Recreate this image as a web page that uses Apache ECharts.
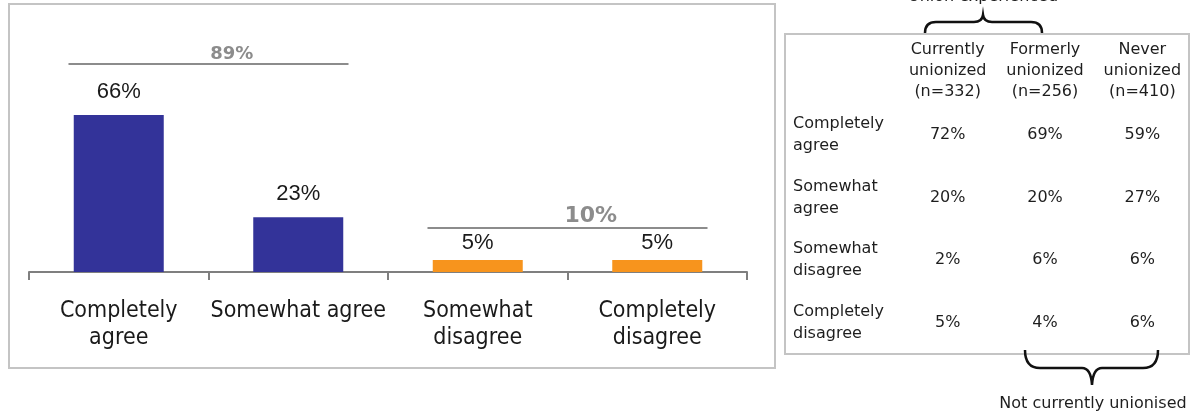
<!DOCTYPE html>
<html>
<head>
<meta charset="utf-8">
<title>Agreement by union status</title>
<style>
  html, body { margin: 0; padding: 0; background: #fff; }
  #chart { width: 1191px; height: 414px; }
</style>
<script src="https://cdn.jsdelivr.net/npm/echarts@6.0.0/dist/echarts.min.js"></script>
</head>
<body>
<div id="chart"></div>
<script>
// bar chart data
const CATEGORIES = ['Completely\nagree', 'Somewhat agree', 'Somewhat\ndisagree', 'Completely\ndisagree']
const VALUES = [66, 23, 5, 5]
const GROUP_TOTALS = [89, 10]
const GROUP_FIRST = [0, 2]
const GROUP_LAST = [1, 3]

// table data
const TABLE_COLUMNS = ['Currently\nunionized\n(n=332)', 'Formerly\nunionized\n(n=256)', 'Never\nunionized\n(n=410)']
const TABLE_ROWS = ['Completely\nagree', 'Somewhat\nagree', 'Somewhat\ndisagree', 'Completely\ndisagree']
const CURRENTLY = [72, 20, 2, 5]
const FORMERLY = [69, 20, 6, 4]
const NEVER = [59, 27, 6, 6]

const BLUE = '#333399'
const ORANGE = '#f7941d'
const GREY = '#8c8c8c'
const INK = '#1a1a1a'
const NARROW = "'Liberation Sans Narrow', 'DejaVu Sans Condensed', 'Liberation Sans', sans-serif"
const AGREE_COUNT = 2
const BRACKET_PAD = [21.4, 13.5]
const BRACKET_OVERHANG = 0.28
const TOTAL_SHIFT = 0.13
const TOTAL_FONT = [18, 22]

// curly braces around the table (pixel paths, decoration only)
const TOP_BRACE = 'M925,33 Q925,22 936,22 L974,22 Q982,22 983,15 Q984,22 992,22 L1031,22 Q1042,22 1042,33'
const BOTTOM_BRACE = 'M1025,350 Q1025,368 1040,368 L1082,368 Q1091,368 1092,385 Q1093,368 1102,368 L1143,368 Q1158,368 1158,350'

const chart = echarts.init(document.getElementById('chart'), null, { renderer: 'canvas' })

const bracketSeries = []
GROUP_TOTALS.forEach((total, g) => {
  const first = GROUP_FIRST[g]
  const last = GROUP_LAST[g]
  const level = Math.max(...VALUES.slice(first, last + 1)) + BRACKET_PAD[g]
  bracketSeries.push({
    type: 'line',
    xAxisIndex: 1,
    yAxisIndex: 0,
    silent: true,
    symbol: 'none',
    lineStyle: { color: GREY, width: 2 },
    data: [[first - BRACKET_OVERHANG, level], [last + BRACKET_OVERHANG, level]],
  })
  bracketSeries.push({
    type: 'scatter',
    xAxisIndex: 1,
    yAxisIndex: 0,
    silent: true,
    symbolSize: 1,
    itemStyle: { color: 'transparent', opacity: 1 },
    label: {
      show: true,
      position: 'top',
      distance: 0,
      formatter: total + '%',
      color: GREY,
      fontWeight: 'bold',
      fontFamily: 'DejaVu Sans',
      fontSize: TOTAL_FONT[g],
    },
    data: [[(first + last) / 2 + TOTAL_SHIFT, level]],
  })
})

const tableData = []
;[CURRENTLY, FORMERLY, NEVER].forEach((col, c) => {
  col.forEach((v, r) => tableData.push([c, r, v]))
})

const tableText = { fontFamily: 'DejaVu Sans', fontSize: 16, color: '#1e1e1e' }

chart.setOption({
  animation: false,
  backgroundColor: '#fff',
  grid: [
    { left: 29, width: 718, top: 34, height: 238 },
    { left: 899, width: 296, top: 104, height: 250 },
  ],
  xAxis: [
    {
      type: 'category',
      gridIndex: 0,
      data: CATEGORIES,
      axisLine: { lineStyle: { color: '#7f7f7f', width: 2 } },
      axisTick: { show: true, length: 8, lineStyle: { color: '#7f7f7f', width: 2 } },
      axisLabel: { interval: 0, margin: 26, color: INK, fontFamily: NARROW, fontSize: 23, lineHeight: 27 },
    },
    { type: 'value', gridIndex: 0, min: -0.5, max: 3.5, show: false },
    {
      type: 'category',
      gridIndex: 1,
      position: 'top',
      data: TABLE_COLUMNS,
      axisLine: { show: false },
      axisTick: { show: false },
      axisLabel: { interval: 0, margin: 2, lineHeight: 21, ...tableText },
    },
  ],
  yAxis: [
    { type: 'value', gridIndex: 0, min: 0, max: 100, show: false },
    {
      type: 'category',
      gridIndex: 1,
      inverse: true,
      data: TABLE_ROWS,
      axisLine: { show: false },
      axisTick: { show: false },
      axisLabel: { interval: 0, align: 'left', margin: 106, lineHeight: 22, ...tableText },
    },
  ],
  series: [
    {
      type: 'bar',
      xAxisIndex: 0,
      yAxisIndex: 0,
      barWidth: 90,
      label: {
        show: true,
        position: 'top',
        formatter: '{c}%',
        color: INK,
        fontFamily: 'Liberation Sans',
        fontSize: 22,
      },
      data: VALUES.map((v, i) => ({
        value: v,
        itemStyle: { color: i < AGREE_COUNT ? BLUE : ORANGE },
        label: { distance: i < AGREE_COUNT ? 12 : 6 },
      })),
    },
    ...bracketSeries,
    {
      type: 'scatter',
      xAxisIndex: 2,
      yAxisIndex: 1,
      silent: true,
      symbolSize: 1,
      itemStyle: { color: 'transparent', opacity: 1 },
      label: {
        show: true,
        position: 'inside',
        formatter: p => p.value[2] + '%',
        textBorderWidth: 0,
        ...tableText,
      },
      data: tableData,
    },
    {
      type: 'custom',
      coordinateSystem: 'none',
      silent: true,
      data: [0],
      renderItem: () => ({
        type: 'group',
        children: [TOP_BRACE, BOTTOM_BRACE].map(d => ({
          type: 'path',
          shape: { pathData: d },
          style: { fill: 'none', stroke: '#111', lineWidth: 2.5 },
        })),
      }),
    },
  ],
  graphic: [
    { type: 'rect', z: -1, shape: { x: 9, y: 4, width: 766, height: 364 }, style: { fill: 'none', stroke: '#c4c4c4', lineWidth: 2 } },
    { type: 'rect', z: -1, shape: { x: 785, y: 34, width: 404, height: 320 }, style: { fill: 'none', stroke: '#c4c4c4', lineWidth: 2 } },
    { type: 'text', x: 983, y: 5, style: { text: 'Union experienced', align: 'center', verticalAlign: 'bottom', fontFamily: 'DejaVu Sans', fontSize: 16, fill: '#1e1e1e' } },
    { type: 'text', x: 1093, y: 404, style: { text: 'Not currently unionised', align: 'center', verticalAlign: 'middle', fontFamily: 'DejaVu Sans', fontSize: 16, fill: '#1e1e1e' } },
  ],
})
</script>
</body>
</html>
